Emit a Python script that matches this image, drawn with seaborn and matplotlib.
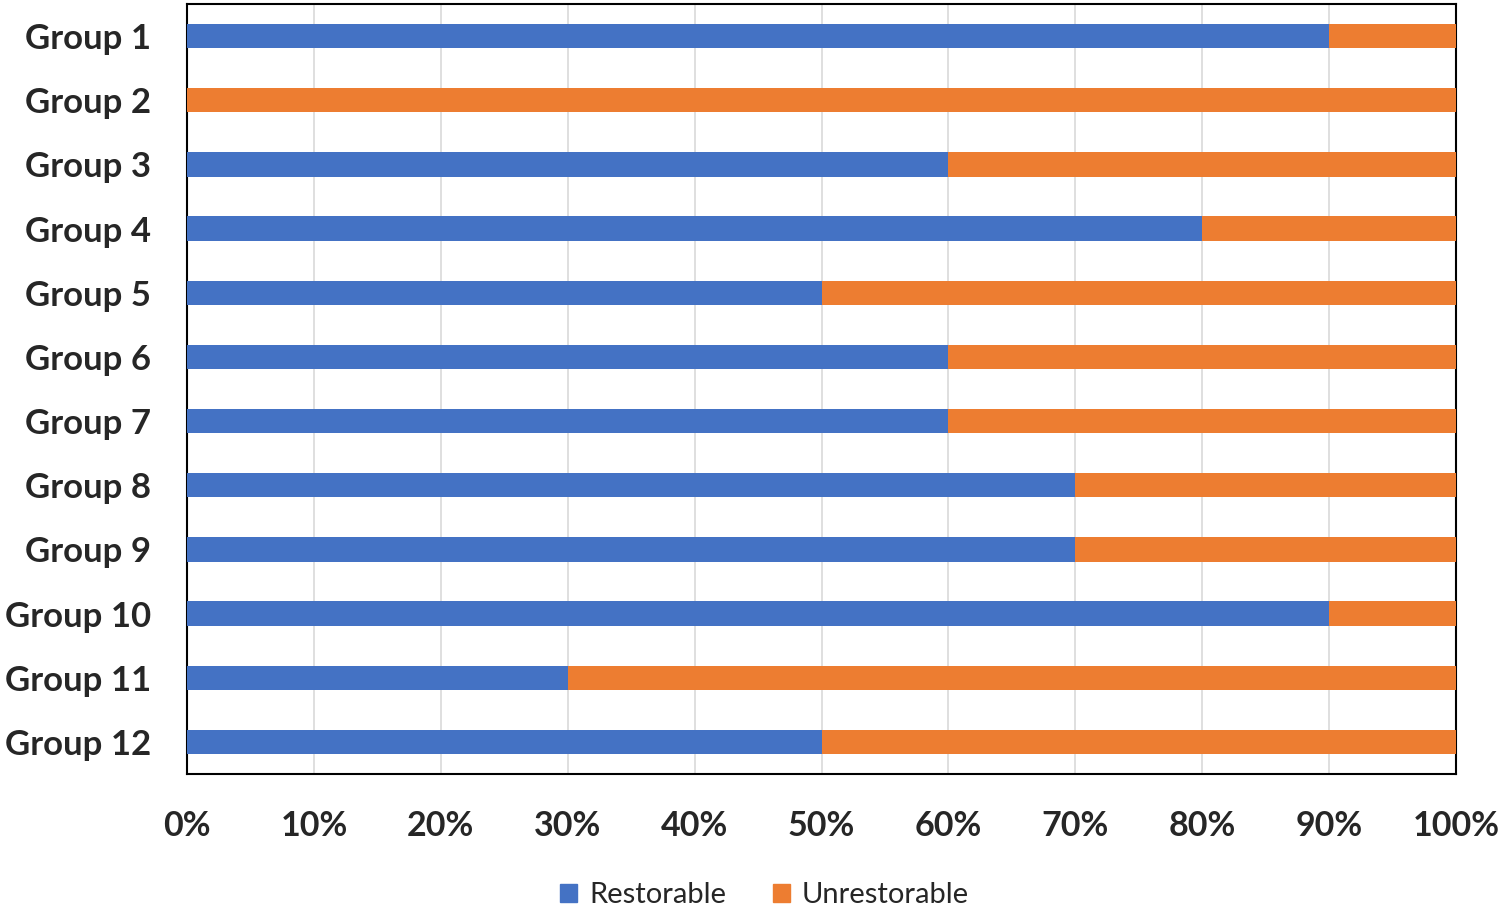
import numpy as np
import pandas as pd
import matplotlib
matplotlib.use("Agg")
import matplotlib.pyplot as plt
import seaborn as sns
from matplotlib.patches import Patch
from matplotlib.ticker import PercentFormatter

groups = ["Group %d" % i for i in range(1, 13)]
restorable = [90, 0, 60, 80, 50, 60, 60, 70, 70, 90, 30, 50]
unrestorable = [100 - r for r in restorable]

blue = "#4472C4"
orange = "#ED7D31"

sns.set_style("white")
plt.rcParams["font.family"] = ["Lato", "DejaVu Sans"]

df = pd.DataFrame({"group": groups, "restorable": restorable,
                   "unrestorable": unrestorable})
df["total"] = df["restorable"] + df["unrestorable"]

fig = plt.figure(figsize=(15.02, 9.10), dpi=100)
ax = fig.add_axes([0.1245, 0.1495, 0.8449, 0.8461])

# stacked: full bar in orange, restorable part on top in blue
sns.barplot(data=df, x="total", y="group", orient="h", color=orange,
            width=0.38, saturation=1, linewidth=0, ax=ax, zorder=3)
sns.barplot(data=df, x="restorable", y="group", orient="h", color=blue,
            width=0.38, saturation=1, linewidth=0, ax=ax, zorder=4)

ax.set_xlim(0, 100)
ax.set_xticks(np.arange(0, 101, 10))
ax.xaxis.set_major_formatter(PercentFormatter(decimals=0))
ax.grid(axis="x", color="#d9d9d9", linewidth=1.2, zorder=0)
ax.set_axisbelow(True)
ax.set_xlabel("")
ax.set_ylabel("")
for s in ax.spines.values():
    s.set_color("black")
    s.set_linewidth(1.5)
ax.tick_params(axis="both", length=0)
ax.tick_params(axis="y", pad=26)
ax.tick_params(axis="x", pad=26)
for lab in ax.get_yticklabels():
    lab.set_fontsize(25)
    lab.set_fontweight("bold")
for lab in ax.get_xticklabels():
    lab.set_fontsize(24.5)
    lab.set_fontweight("bold")

handles = [Patch(color=blue, label="Restorable"),
           Patch(color=orange, label="Unrestorable")]
fig.legend(handles=handles, loc="center", bbox_to_anchor=(0.509, 0.016),
           ncol=2, frameon=False, fontsize=21, handlelength=0.6,
           handleheight=0.6, handletextpad=0.4, columnspacing=1.6)

fig.savefig("out.png", dpi=100)
